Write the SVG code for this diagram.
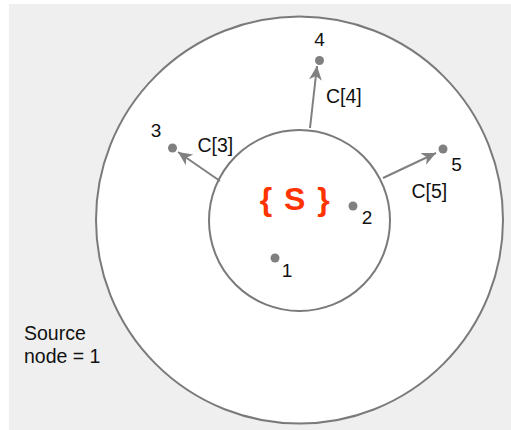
<svg xmlns="http://www.w3.org/2000/svg" width="511" height="430" viewBox="0 0 511 430">
<style>
.ring{fill:#ffffff;stroke:#7a7a7a;stroke-width:2}
.dot{fill:#808080}
.lbl{font-family:"Liberation Sans",Arial,sans-serif;font-size:19px;fill:#111}
.clbl{font-family:"Liberation Sans",Arial,sans-serif;font-size:19.5px;fill:#111}
.edge{stroke:#808080;stroke-width:2;fill:none}
</style>
<defs>
<marker id="arr" markerUnits="userSpaceOnUse" viewBox="0 -7 15 14" markerWidth="15" markerHeight="14" refX="14" refY="0" orient="auto">
<path d="M0,-6.5 L14,0 L0,6.5 L4,0 Z" fill="#808080"/>
</marker>
</defs>
<rect x="9" y="4" width="502" height="426" fill="#efefef"/>
<g id="outer"><circle class="ring" cx="299.5" cy="220" r="203.5"/></g>
<g id="inner"><circle class="ring" cx="299.5" cy="220.5" r="90.5"/></g>
<g id="set-label"><text x="295.5" y="210" text-anchor="middle" font-family="'Liberation Sans',Arial,sans-serif" font-weight="bold" font-size="32" letter-spacing="1.5" fill="#ff3300" xml:space="preserve">{ S }</text></g>
<g id="edges">
<line class="edge" x1="310" y1="128" x2="317" y2="66" marker-end="url(#arr)"/>
<line class="edge" x1="220" y1="181" x2="178" y2="152" marker-end="url(#arr)"/>
<line class="edge" x1="383" y1="178" x2="436" y2="153" marker-end="url(#arr)"/>
<text class="clbl" x="326" y="103">C[4]</text>
<text class="clbl" x="197.5" y="152">C[3]</text>
<text class="clbl" x="411.5" y="198">C[5]</text>
</g>
<g id="node1"><circle class="dot" cx="275" cy="258" r="4.5"/><text class="lbl" x="287" y="277" text-anchor="middle">1</text></g>
<g id="node2"><circle class="dot" cx="353" cy="206" r="4.5"/><text class="lbl" x="367" y="224" text-anchor="middle">2</text></g>
<g id="node3"><circle class="dot" cx="172.5" cy="148" r="4.5"/><text class="lbl" x="156" y="137" text-anchor="middle">3</text></g>
<g id="node4"><circle class="dot" cx="319.5" cy="60.5" r="4.5"/><text class="lbl" x="319.5" y="46" text-anchor="middle">4</text></g>
<g id="node5"><circle class="dot" cx="443" cy="149" r="4.5"/><text class="lbl" x="456.5" y="171" text-anchor="middle">5</text></g>
<g id="source-note"><text class="clbl" x="24" y="340">Source</text><text class="clbl" x="24" y="363">node = 1</text></g>
</svg>
